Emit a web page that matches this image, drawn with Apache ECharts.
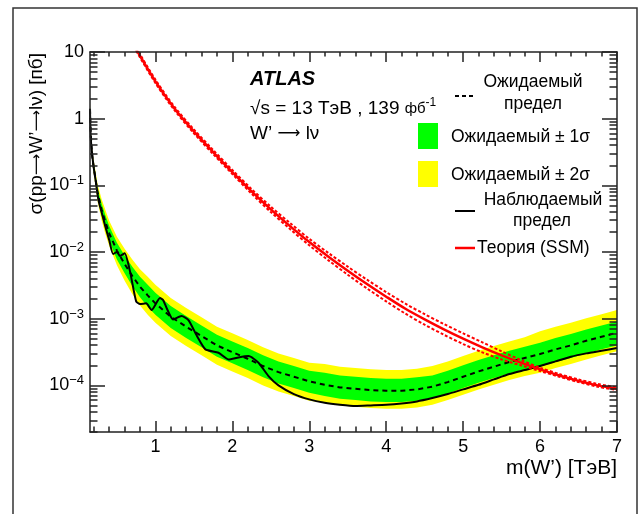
<!DOCTYPE html>
<html><head><meta charset="utf-8">
<script src="https://cdn.jsdelivr.net/npm/echarts@6/dist/echarts.min.js"></script>
<style>html,body{margin:0;padding:0;background:#fff}#c{width:639px;height:514px}</style>
</head><body><div id="c"></div>
<script>
// ---- Data ----
const massGrid = [0.15,0.16,0.18,0.2,0.25,0.3,0.35,0.4,0.5,0.6,0.7,0.8,0.9,1.0,1.2,1.4,1.6,1.8,2.0,2.2,2.4,2.6,2.8,3.0,3.2,3.4,3.6,3.8,4.0,4.2,4.4,4.6,4.8,5.0,5.2,5.4,5.6,5.8,6.0,6.2,6.4,6.6,6.8,7.0];
const expected = [1.41,0.562,0.263,0.182,0.0759,0.0437,0.0282,0.0191,0.0105,6.61e-3,4.37e-3,3.02e-3,2.24e-3,1.70e-3,1.07e-3,7.59e-4,5.50e-4,3.98e-4,3.16e-4,2.51e-4,1.95e-4,1.58e-4,1.35e-4,1.15e-4,1.02e-4,9.33e-5,8.91e-5,8.51e-5,8.32e-5,8.32e-5,8.71e-5,9.55e-5,1.12e-4,1.35e-4,1.62e-4,1.91e-4,2.24e-4,2.57e-4,2.95e-4,3.47e-4,3.98e-4,4.68e-4,5.37e-4,6.17e-4];
const plus1 = [1.51,0.603,0.288,0.204,0.0891,0.0537,0.0355,0.0245,0.0138,8.91e-3,6.03e-3,4.27e-3,3.24e-3,2.45e-3,1.55e-3,1.10e-3,7.94e-4,5.75e-4,4.57e-4,3.63e-4,2.82e-4,2.29e-4,1.95e-4,1.66e-4,1.55e-4,1.41e-4,1.35e-4,1.29e-4,1.26e-4,1.26e-4,1.32e-4,1.41e-4,1.66e-4,2.00e-4,2.40e-4,2.82e-4,3.31e-4,3.80e-4,4.37e-4,5.13e-4,5.89e-4,6.92e-4,7.94e-4,9.12e-4];
const minus1 = [1.32,0.525,0.240,0.162,0.0646,0.0355,0.0224,0.0148,7.76e-3,4.79e-3,3.09e-3,2.09e-3,1.51e-3,1.15e-3,7.24e-4,5.13e-4,3.72e-4,2.69e-4,2.14e-4,1.70e-4,1.32e-4,1.07e-4,9.12e-5,7.76e-5,6.92e-5,6.31e-5,6.03e-5,5.75e-5,5.62e-5,5.62e-5,5.89e-5,6.46e-5,7.59e-5,9.12e-5,1.10e-4,1.29e-4,1.51e-4,1.74e-4,1.91e-4,2.24e-4,2.57e-4,3.02e-4,3.47e-4,3.98e-4];
const plus2 = [1.70,0.676,0.324,0.229,0.102,0.0631,0.0427,0.0295,0.0170,0.0112,7.76e-3,5.50e-3,4.27e-3,3.24e-3,2.04e-3,1.45e-3,1.05e-3,7.59e-4,6.03e-4,4.79e-4,3.72e-4,3.02e-4,2.57e-4,2.19e-4,2.09e-4,1.91e-4,1.82e-4,1.74e-4,1.70e-4,1.70e-4,1.78e-4,1.95e-4,2.29e-4,2.75e-4,3.31e-4,3.89e-4,4.57e-4,5.25e-4,6.46e-4,7.59e-4,8.71e-4,1.02e-3,1.17e-3,1.35e-3];
const minus2 = [1.17,0.468,0.214,0.145,0.0562,0.0302,0.0186,0.0123,6.31e-3,3.72e-3,2.34e-3,1.58e-3,1.15e-3,8.71e-4,5.50e-4,3.89e-4,2.82e-4,2.04e-4,1.62e-4,1.29e-4,1.00e-4,8.13e-5,6.92e-5,5.89e-5,5.50e-5,5.01e-5,4.79e-5,4.57e-5,4.47e-5,4.47e-5,4.68e-5,5.13e-5,6.03e-5,7.24e-5,8.71e-5,1.02e-4,1.20e-4,1.38e-4,1.55e-4,1.82e-4,2.09e-4,2.45e-4,2.82e-4,3.24e-4];

const obsMass = [0.15,0.16,0.18,0.2,0.23,0.26,0.3,0.35,0.4,0.45,0.5,0.54,0.6,0.67,0.75,0.8,0.88,0.95,1.06,1.1,1.15,1.23,1.34,1.43,1.54,1.65,1.82,1.95,2.08,2.21,2.34,2.47,2.6,2.8,3.0,3.2,3.4,3.6,3.8,4.0,4.2,4.4,4.6,4.8,5.0,5.2,5.4,5.6,5.8,6.0,6.2,6.4,6.6,6.8,7.0];
const observed = [1.32,0.501,0.282,0.178,0.105,0.0603,0.0398,0.0240,0.0151,9.33e-3,0.0100,8.71e-3,9.55e-3,5.13e-3,1.82e-3,1.66e-3,1.70e-3,1.35e-3,2.04e-3,1.91e-3,1.41e-3,9.77e-4,1.10e-3,9.55e-4,5.50e-4,3.47e-4,3.09e-4,2.45e-4,2.63e-4,2.75e-4,2.19e-4,1.38e-4,1.00e-4,7.41e-5,6.17e-5,5.50e-5,5.13e-5,4.90e-5,5.01e-5,5.13e-5,5.37e-5,5.75e-5,6.46e-5,7.41e-5,8.71e-5,1.02e-4,1.23e-4,1.48e-4,1.70e-4,1.95e-4,2.29e-4,2.69e-4,3.02e-4,3.31e-4,3.63e-4];

const theoryMass = [0.75,1.0,1.25,1.5,1.75,2.0,2.25,2.5,2.75,3.0,3.25,3.5,3.75,4.0,4.25,4.5,4.75,5.0,5.25,5.5,5.75,6.0,6.25,6.5,6.75,7.0];
const theory = [11.0,3.63,1.41,0.646,0.316,0.158,0.0813,0.0437,0.0245,0.0141,8.51e-3,5.25e-3,3.31e-3,2.14e-3,1.41e-3,9.77e-4,6.92e-4,5.01e-4,3.72e-4,2.82e-4,2.19e-4,1.74e-4,1.41e-4,1.17e-4,1.00e-4,8.91e-5];
const theoryUp = [11.6,3.85,1.50,0.690,0.339,0.170,0.0881,0.0479,0.0272,0.0158,9.66e-3,6.03e-3,3.85e-3,2.51e-3,1.68e-3,1.17e-3,8.32e-4,6.03e-4,4.42e-4,3.24e-4,2.40e-4,1.84e-4,1.48e-4,1.23e-4,1.05e-4,9.33e-5];
const theoryDown = [10.4,3.42,1.33,0.605,0.295,0.148,0.0750,0.0398,0.0221,0.0126,7.50e-3,4.57e-3,2.85e-3,1.82e-3,1.19e-3,8.13e-4,5.75e-4,4.17e-4,3.13e-4,2.45e-4,2.00e-4,1.64e-4,1.35e-4,1.12e-4,9.55e-5,8.51e-5];

const xTickLabels = [1,2,3,4,5,6,7];
const yTickLabels = [10,1,0.1,0.01,0.001,0.0001];

// ---- Tick positions ----
const xMinor = [];
for (let i = 1; i <= 34; i++) { const v = Math.round(i * 2) / 10; if (Math.abs(v - Math.round(v)) > 1e-9) xMinor.push(v); }
const yMinor = [];
for (let e = -5; e <= 0; e++) for (let k = 2; k <= 9; k++) { const v = k * Math.pow(10, e); if (v >= 2e-5 && v <= 10) yMinor.push(v); }

const FONT = '"Liberation Sans", Arial, Helvetica, sans-serif';
const ARROWFONT = '"DejaVu Sans", sans-serif';
const AX = {color: '#222', width: 1.5};
const X0 = 0.15, X1 = 7, Y0 = 2e-5, Y1 = 10;

function xAx(pos, ticks, len, labels, line) {
  return {type: 'value', min: X0, max: X1, position: pos, z: 10,
    axisLine: {show: line, onZero: false, lineStyle: AX},
    axisTick: {show: true, inside: true, length: len, customValues: ticks, lineStyle: AX},
    axisLabel: labels ? {show: true, customValues: ticks, fontSize: 18, color: '#000', fontFamily: FONT, margin: 6} : {show: false},
    splitLine: {show: false}};
}
function yAx(pos, ticks, len, labels, line) {
  return {type: 'log', logBase: 10, min: Y0, max: Y1, position: pos, z: 10,
    axisLine: {show: line, onZero: false, lineStyle: AX},
    axisTick: {show: true, inside: true, length: len, customValues: ticks, lineStyle: AX},
    axisLabel: labels ? {show: true, customValues: ticks, color: '#000', fontFamily: FONT, margin: 6,
      formatter: function (v) {
        const e = Math.round(Math.log10(v));
        if (e === 1) return '{b|10}';
        if (e === 0) return '{b|1}';
        return '{b|10}{s|−' + (-e) + '}';
      },
      rich: {b: {fontSize: 18, fontFamily: FONT, color: '#000'}, s: {fontSize: 13, fontFamily: FONT, color: '#000', padding: [0, 0, 9, 0]}}
    } : {show: false},
    splitLine: {show: false}, minorTick: {show: false}};
}

function band(upper, lower, color, z) {
  return {type: 'custom', xAxisIndex: 0, yAxisIndex: 0, z: z, silent: true, data: [[1, 1]],
    renderItem: function (params, api) {
      const pts = [];
      for (let i = 0; i < massGrid.length; i++) pts.push(api.coord([massGrid[i], upper[i]]));
      for (let i = massGrid.length - 1; i >= 0; i--) pts.push(api.coord([massGrid[i], lower[i]]));
      return {type: 'polygon', shape: {points: pts}, style: {fill: color, stroke: null}};
    }};
}
function zip(a, b) { return a.map((v, i) => [v, b[i]]); }

const LF = '17.5px ' + FONT;
const chart = echarts.init(document.getElementById('c'), null, {renderer: 'canvas'});
chart.setOption({
  animation: false,
  backgroundColor: '#fff',
  grid: {left: 90, top: 52, width: 527, height: 380, containLabel: false},
  xAxis: [xAx('bottom', xTickLabels, 11, true, true), xAx('bottom', xMinor, 5.5, false, false),
          xAx('top', xTickLabels, 10, false, true), xAx('top', xMinor, 4.5, false, false)],
  yAxis: [yAx('left', yTickLabels, 15, true, true), yAx('left', yMinor, 7.5, false, false),
          yAx('right', yTickLabels, 15, false, true), yAx('right', yMinor, 7.5, false, false)],
  series: [
    band(plus2, minus2, '#ffff00', 1),
    band(plus1, minus1, '#00ff00', 2),
    {type: 'line', z: 3, data: zip(massGrid, expected), showSymbol: false, symbol: 'none',
      lineStyle: {color: '#000', width: 2, type: [5, 4]}},
    {type: 'line', z: 4, data: zip(obsMass, observed), showSymbol: false, symbol: 'none', smooth: 0.2,
      lineStyle: {color: '#000', width: 2}},
    {type: 'line', z: 5, data: zip(theoryMass, theoryUp), showSymbol: false, symbol: 'none', smooth: 0.3,
      lineStyle: {color: '#ff0000', width: 2, type: [3, 2]}},
    {type: 'line', z: 5, data: zip(theoryMass, theoryDown), showSymbol: false, symbol: 'none', smooth: 0.3,
      lineStyle: {color: '#ff0000', width: 2, type: [3, 2]}},
    {type: 'line', z: 6, data: zip(theoryMass, theory), showSymbol: false, symbol: 'none', smooth: 0.3,
      lineStyle: {color: '#ff0000', width: 2.5}}
  ],
  graphic: [
    {type: 'rect', silent: true, shape: {x: 13, y: 8, width: 624, height: 530}, style: {fill: 'none', stroke: '#333', lineWidth: 1.5}},
    {type: 'text', silent: true, x: 37, y: 53, rotation: Math.PI / 2,
      style: {text: '{t|σ(pp}{a|⟶}{t|W’}{a|⟶}{t|lν) [пб]}', align: 'right', verticalAlign: 'middle',
        rich: {t: {font: '19px ' + FONT, fill: '#000'}, a: {font: '15px ' + ARROWFONT, fill: '#000'}}}},
    {type: 'text', silent: true, x: 617, y: 468,
      style: {text: 'm(W’) [ТэВ]', font: '21px ' + FONT, fill: '#000', align: 'right', verticalAlign: 'middle'}},
    {type: 'text', silent: true, x: 250, y: 79,
      style: {text: 'ATLAS', font: 'italic bold 20px ' + FONT, fill: '#000', align: 'left', verticalAlign: 'middle'}},
    {type: 'text', silent: true, x: 250, y: 109,
      style: {text: '{a|√s = 13 ТэВ , 139 }{f|фб}{s|-1}', align: 'left', verticalAlign: 'middle',
        rich: {a: {font: '19px ' + FONT, fill: '#000'}, f: {font: '15px ' + FONT, fill: '#000'}, s: {font: '12px ' + FONT, fill: '#000', padding: [0, 0, 12, 0]}}}},
    {type: 'text', silent: true, x: 250, y: 134,
      style: {text: '{t|W’ }{a|⟶}{t| lν}', align: 'left', verticalAlign: 'middle',
        rich: {t: {font: '19px ' + FONT, fill: '#000'}, a: {font: '16px ' + ARROWFONT, fill: '#000'}}}},
    // legend
    {type: 'line', silent: true, shape: {x1: 455, y1: 96, x2: 474, y2: 96}, style: {stroke: '#000', lineWidth: 2, lineDash: [4, 3]}},
    {type: 'text', silent: true, x: 533, y: 82, style: {text: 'Ожидаемый', font: LF, fill: '#000', align: 'center', verticalAlign: 'middle'}},
    {type: 'text', silent: true, x: 533, y: 104, style: {text: 'предел', font: LF, fill: '#000', align: 'center', verticalAlign: 'middle'}},
    {type: 'rect', silent: true, shape: {x: 418, y: 123, width: 20, height: 26}, style: {fill: '#00ff00'}},
    {type: 'text', silent: true, x: 451, y: 137, style: {text: 'Ожидаемый ± 1σ', font: LF, fill: '#000', align: 'left', verticalAlign: 'middle'}},
    {type: 'rect', silent: true, shape: {x: 418, y: 161, width: 20, height: 26}, style: {fill: '#ffff00'}},
    {type: 'text', silent: true, x: 451, y: 175, style: {text: 'Ожидаемый ± 2σ', font: LF, fill: '#000', align: 'left', verticalAlign: 'middle'}},
    {type: 'line', silent: true, shape: {x1: 455, y1: 211, x2: 475, y2: 211}, style: {stroke: '#000', lineWidth: 2}},
    {type: 'text', silent: true, x: 543, y: 200, style: {text: 'Наблюдаемый', font: LF, fill: '#000', align: 'center', verticalAlign: 'middle'}},
    {type: 'text', silent: true, x: 542, y: 221, style: {text: 'предел', font: LF, fill: '#000', align: 'center', verticalAlign: 'middle'}},
    {type: 'line', silent: true, shape: {x1: 455, y1: 248, x2: 475, y2: 248}, style: {stroke: '#ff0000', lineWidth: 2.5}},
    {type: 'text', silent: true, x: 477, y: 248, style: {text: 'Теория (SSM)', font: LF, fill: '#000', align: 'left', verticalAlign: 'middle'}}
  ]
});
</script>
</body></html>
